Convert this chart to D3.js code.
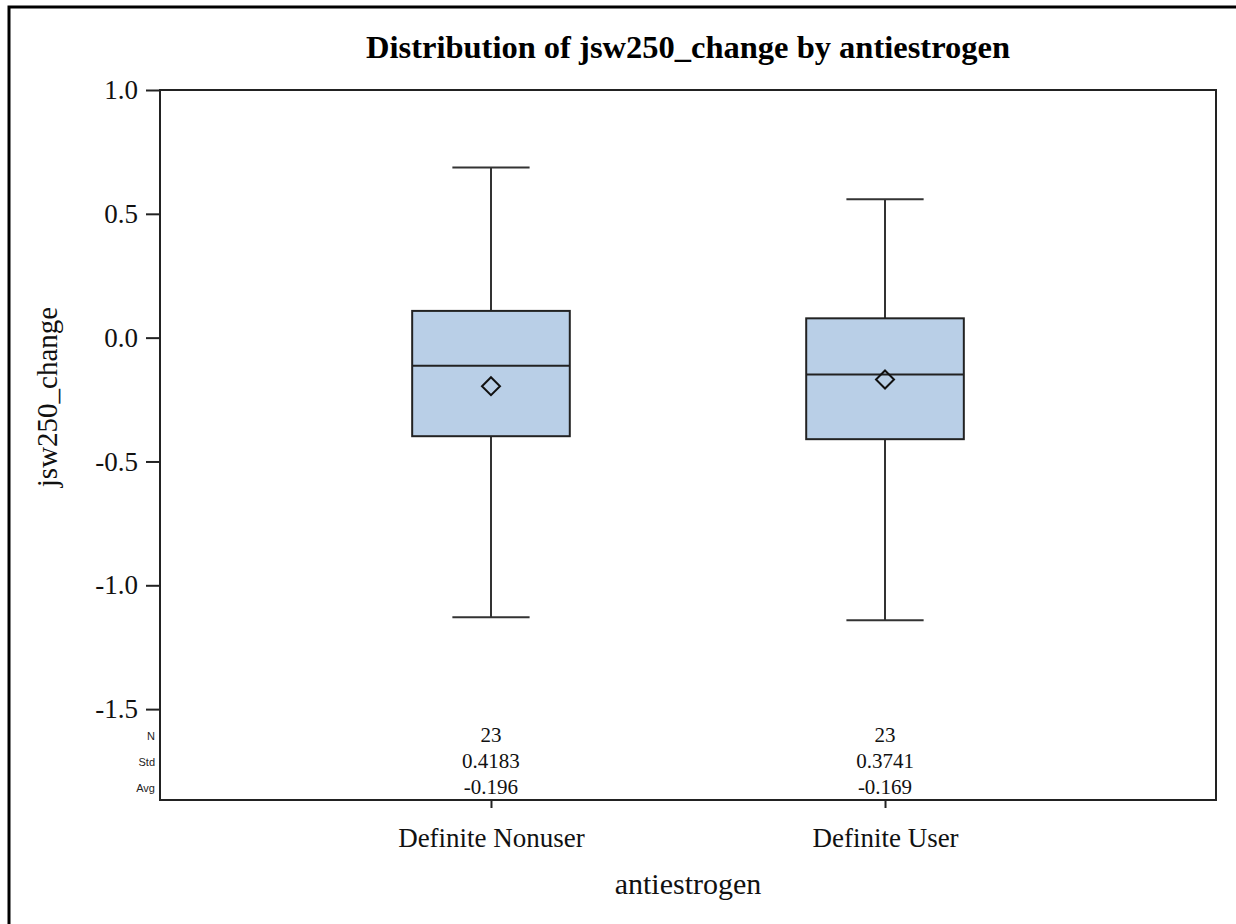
<!DOCTYPE html>
<html><head><meta charset="utf-8">
<script src="https://cdn.jsdelivr.net/npm/d3@7"></script>
<style>body{margin:0;background:#fff}</style>
</head><body>
<script>
const categories = ["Definite Nonuser", "Definite User"];
const whiskerLow = [-1.129, -1.141];
const q1 = [-0.398, -0.410];
const median = [-0.113, -0.149];
const q3 = [0.108, 0.078];
const whiskerHigh = [0.687, 0.559];
const mean = [-0.196, -0.169];
const statN = ["23", "23"];
const statStd = ["0.4183", "0.3741"];
const statAvg = ["-0.196", "-0.169"];
const statLabels = ["N", "Std", "Avg"];
const yTicks = [1.0, 0.5, 0.0, -0.5, -1.0, -1.5];

const W = 1236, H = 924;
const L = 160, R = 1216, T = 90, B = 800;
const svg = d3.select("body").append("svg").attr("width", W).attr("height", H);
const serif = "'Liberation Serif','Times New Roman',serif";
const sans = "'Liberation Sans',Arial,sans-serif";

// outer border
svg.append("rect").attr("x", 9).attr("y", 7).attr("width", W + 10).attr("height", H + 10)
  .attr("fill", "none").attr("stroke", "#000").attr("stroke-width", 3);

const y = d3.scaleLinear().domain([-1.867, 1.0]).range([B, T]);
const x = d3.scalePoint().domain(categories).range([L, R]).padding(0.84);
const boxW = x.step() * 0.4;
const capW = boxW * 0.49;

// title
svg.append("text").attr("x", (L + R) / 2).attr("y", 58).attr("text-anchor", "middle")
  .attr("font-family", serif).attr("font-weight", "bold").attr("font-size", 32.5)
  .text("Distribution of jsw250_change by antiestrogen");

// y axis
const yAxis = d3.axisLeft(y).tickValues(yTicks).tickFormat(d3.format(".1f")).tickSize(14).tickPadding(8);
const gy = svg.append("g").attr("transform", `translate(${L},0)`).call(yAxis);
gy.select(".domain").remove();
gy.selectAll(".tick line").attr("stroke", "#222").attr("stroke-width", 2);
gy.selectAll(".tick text").attr("font-family", serif).attr("font-size", 27).attr("fill", "#111")
  .text(d => d3.format(".1f")(d).replace("−", "-"));

// x axis
const xAxis = d3.axisBottom(x).tickSize(8).tickPadding(20);
const gx = svg.append("g").attr("transform", `translate(0,${B})`).call(xAxis);
gx.select(".domain").remove();
gx.selectAll(".tick line").attr("stroke", "#222").attr("stroke-width", 2);
gx.selectAll(".tick text").attr("font-family", serif).attr("font-size", 27).attr("fill", "#111")
  .attr("dy", null).attr("y", 47);

// frame
svg.append("rect").attr("x", L).attr("y", T).attr("width", R - L).attr("height", B - T)
  .attr("fill", "none").attr("stroke", "#222").attr("stroke-width", 2);

// axis titles
svg.append("text").attr("transform", `translate(57,397) rotate(-90)`).attr("text-anchor", "middle")
  .attr("font-family", serif).attr("font-size", 29).attr("fill", "#111").text("jsw250_change");
svg.append("text").attr("x", (L + R) / 2).attr("y", 894).attr("text-anchor", "middle")
  .attr("font-family", serif).attr("font-size", 30).attr("fill", "#111").text("antiestrogen");

// boxes
const g = svg.append("g");
categories.forEach((c, i) => {
  const cx = x(c);
  const line = (x1, y1, x2, y2) => g.append("line").attr("x1", x1).attr("y1", y1).attr("x2", x2).attr("y2", y2)
    .attr("stroke", "#333").attr("stroke-width", 2);
  line(cx, y(whiskerHigh[i]), cx, y(q3[i]));
  line(cx, y(q1[i]), cx, y(whiskerLow[i]));
  line(cx - capW / 2, y(whiskerHigh[i]), cx + capW / 2, y(whiskerHigh[i]));
  line(cx - capW / 2, y(whiskerLow[i]), cx + capW / 2, y(whiskerLow[i]));
  g.append("rect").attr("x", cx - boxW / 2).attr("y", y(q3[i])).attr("width", boxW)
    .attr("height", y(q1[i]) - y(q3[i])).attr("fill", "#b9cfe7").attr("stroke", "#222").attr("stroke-width", 2);
  g.append("line").attr("x1", cx - boxW / 2).attr("x2", cx + boxW / 2).attr("y1", y(median[i])).attr("y2", y(median[i]))
    .attr("stroke", "#222").attr("stroke-width", 2);
  g.append("path").attr("transform", `translate(${cx},${y(mean[i])})`)
    .attr("d", "M0,-9L9,0L0,9L-9,0Z").attr("fill", "none").attr("stroke", "#111").attr("stroke-width", 2);
});

// stats table
const rowsY = [742, 768, 794];
const statRows = [statN, statStd, statAvg];
statLabels.forEach((lab, r) => {
  svg.append("text").attr("x", 155).attr("y", rowsY[r] - 2).attr("text-anchor", "end")
    .attr("font-family", sans).attr("font-size", 11).attr("fill", "#222").text(lab);
  categories.forEach((c, i) => {
    svg.append("text").attr("x", x(c)).attr("y", rowsY[r]).attr("text-anchor", "middle")
      .attr("font-family", serif).attr("font-size", 21).attr("fill", "#111").text(statRows[r][i]);
  });
});
</script>
</body></html>
